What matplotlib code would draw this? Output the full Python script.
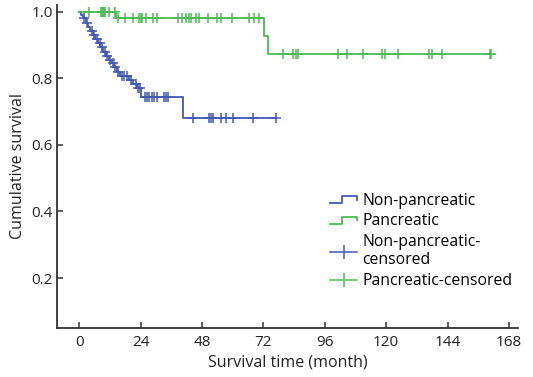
import numpy as np
import matplotlib
matplotlib.use("Agg")
import matplotlib.pyplot as plt
from matplotlib.lines import Line2D
from matplotlib.legend_handler import HandlerBase

plt.rcParams["font.family"] = ["Open Sans", "DejaVu Sans"]

BLUE = "#4358b3"
GREEN = "#4cbb55"

## Non-pancreatic: event times (month) and survival after each drop
non_event_t = [0.8, 1.6, 2.5, 3.4, 4.3, 5.2, 6.2, 7.2, 8.2, 9.3, 10.4, 11.5,
               12.6, 13.6, 14.6, 16.0, 19.5, 21.0, 22.5, 24.3, 40.4]
non_event_s = [0.99, 0.98, 0.967, 0.955, 0.943, 0.93, 0.918, 0.905, 0.893,
               0.88, 0.868, 0.856, 0.845, 0.833, 0.82, 0.808, 0.796, 0.784,
               0.77, 0.744, 0.681]
non_censor_t = [2.0, 3.0, 4.8, 5.8, 7.0, 8.0, 9.0, 10.0, 11.0, 12.0, 13.0,
                14.0, 15.2, 16.8, 17.6, 18.6, 20.2, 22.0, 23.0, 23.6,
                25.7, 26.6, 27.4, 28.4, 29.3, 30.5, 33.3, 33.9, 34.8,
                44.6, 50.7, 51.4, 52.4, 55.6, 57.3, 60.1, 67.8, 77.0]

## Pancreatic
pan_event_t = [14.2, 72.4, 73.9]
pan_event_s = [0.982, 0.927, 0.872]
pan_censor_t = [3.9, 8.3, 8.7, 9.1, 9.5, 9.9, 11.7, 14.0,
                15.3, 17.9, 20.9, 23.4, 24.0, 24.7, 26.1, 29.0, 30.5, 38.7,
                40.3, 41.8, 42.8, 43.8, 45.8, 46.7, 50.5, 54.0, 55.3, 59.7,
                66.5, 68.3, 70.1,
                79.6, 83.7, 84.7, 85.6, 101.3, 104.6, 110.9, 118.5, 119.5,
                124.6, 136.9, 137.9, 141.8, 160.7, 161.0]

x_ticks = [0, 24, 48, 72, 96, 120, 144, 168]
y_ticks = [0.2, 0.4, 0.6, 0.8, 1.0]


def km_curve(event_t, event_s, censor_t):
    end_t = max(max(censor_t), max(event_t))
    t = np.array([0] + list(event_t) + [end_t])
    s = np.array([1.0] + list(event_s) + [event_s[-1]])
    ev = np.array(event_t)
    idx = np.searchsorted(ev, np.array(censor_t), side="right")
    cs = np.array([1.0] + list(event_s))[idx]
    return t, s, np.array(censor_t), cs


class StepHandler(HandlerBase):
    def create_artists(self, legend, orig_handle, xdescent, ydescent,
                       width, height, fontsize, trans):
        x0, x1 = -xdescent, -xdescent + width
        xm = x0 + width * 0.42
        yl = -ydescent + height * 0.15
        yh = -ydescent + height * 0.75
        xs = [x0, xm, xm, x1, x1]
        ys = [yl, yl, yh, yh, yh - height * 0.3]
        ln = Line2D(xs, ys, color=orig_handle.get_color(), lw=1.3,
                    transform=trans)
        return [ln]


fig = plt.figure(figsize=(5.33, 3.77), dpi=100)
ax = fig.add_axes([0.107, 0.130, 0.865, 0.857])

for (et, es, ct), col in [((non_event_t, non_event_s, non_censor_t), BLUE),
                          ((pan_event_t, pan_event_s, pan_censor_t), GREEN)]:
    t, s, cx, cy = km_curve(et, es, ct)
    ax.step(t, s, where="post", color=col, lw=1.3)
    ax.plot(cx, cy, ls="none", marker="+", ms=7, mew=1.1, color=col)

ax.set_xlim(-8.7, 171.6)
ax.set_ylim(0.05, 1.02)
ax.set_xticks(x_ticks)
ax.set_yticks(y_ticks)
ax.set_yticklabels(["%.1f" % v for v in y_ticks])
ax.tick_params(direction="in", length=4, width=1.1, labelsize=11,
               color="#333333", labelcolor="#222222")
ax.tick_params(axis="x", pad=5)
ax.tick_params(axis="y", pad=3)
for side in ["top", "right"]:
    ax.spines[side].set_visible(False)
for side in ["left", "bottom"]:
    ax.spines[side].set_linewidth(1.3)
    ax.spines[side].set_color("#333333")
ax.set_xlabel("Survival time (month)", fontsize=11.5, color="#222222",
              labelpad=3)
ax.set_ylabel("Cumulative survival", fontsize=11.5, color="#222222",
              labelpad=4)

h_non = Line2D([], [], color=BLUE)
h_pan = Line2D([], [], color=GREEN)
h_non_c = Line2D([], [], color=BLUE, marker="|", ms=10, mew=1.1, lw=1.1)
h_pan_c = Line2D([], [], color=GREEN, marker="|", ms=10, mew=1.1, lw=1.1)
ax.legend([h_non, h_pan, h_non_c, h_pan_c],
          ["Non-pancreatic", "Pancreatic", "Non-pancreatic-\ncensored",
           "Pancreatic-censored"],
          handler_map={h_non: StepHandler(), h_pan: StepHandler()},
          loc="upper left", bbox_to_anchor=(0.605, 0.51),
          bbox_transform=fig.transFigure, frameon=False, fontsize=11.3,
          handlelength=1.7, handletextpad=0.35, labelspacing=0.3,
          borderpad=0, numpoints=1)

fig.savefig("out.png", dpi=100)
